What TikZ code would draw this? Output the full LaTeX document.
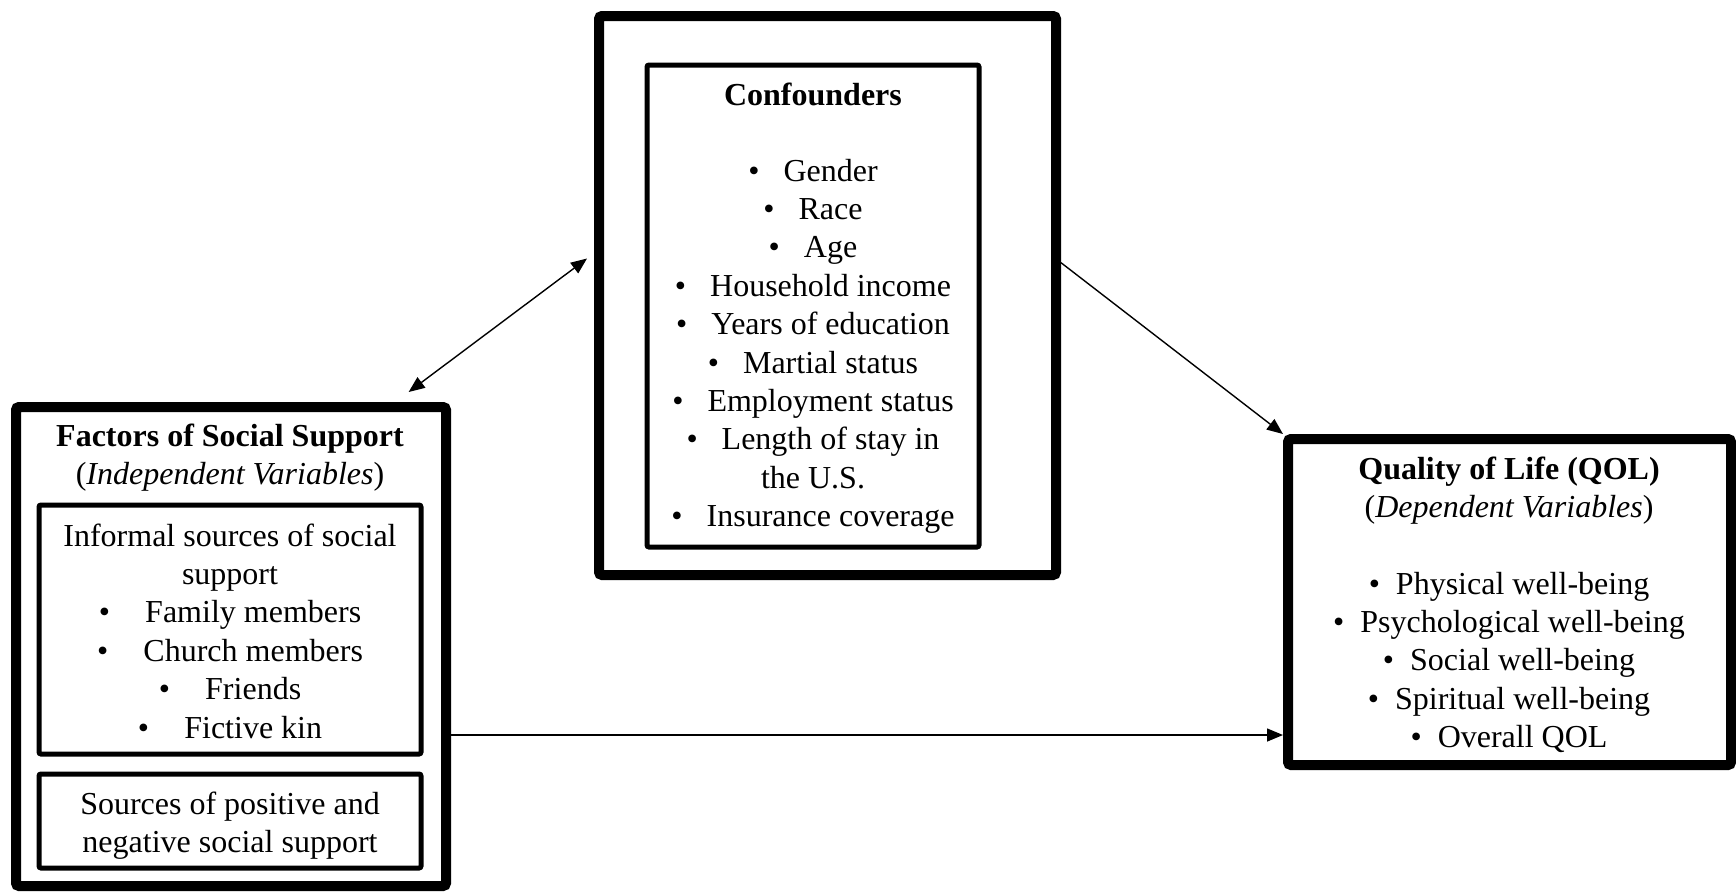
\documentclass[tikz,border=0pt]{standalone}
\usepackage{fontspec}
\setmainfont{Liberation Serif}
\usetikzlibrary{arrows.meta, calc}

\newcommand{\bul}[2][0.75em]{\textbullet\hspace{#1}#2}

\begin{document}
\begin{tikzpicture}[x=0.5pt, y=-0.5pt, >={Triangle[length=8pt,width=6.5pt]},
    font=\fontsize{16}{19.2}\selectfont,
    frame/.style={draw, line width=5pt, rounded corners=1.5pt, inner sep=0pt},
    subframe/.style={draw, line width=2.5pt, rounded corners=1pt, inner sep=0pt},
    txt/.style={anchor=base, inner sep=0pt},
    link/.style={line width=0.7pt}]

\def\ls{38.4}

\useasboundingbox (0,0) rectangle (1736,891);

% Boites
\node[frame, minimum width=215pt, minimum height=239.5pt] (fss) at (231,646.5) {};
\node[subframe, minimum width=191pt, minimum height=124.5pt] (inf) at (230,629.5) {};
\node[subframe, minimum width=191pt, minimum height=47pt] (pos) at (230,821) {};
\node[frame, minimum width=228.5pt, minimum height=279.5pt] (conf) at (827.5,295.5) {};
\node[subframe, minimum width=166pt, minimum height=241pt] (cin) at (813,306) {};
\node[frame, minimum width=221.5pt, minimum height=163pt] (qol) at (1509.5,602) {};

% Facteurs de soutien social
\node[txt, font=\fontsize{16}{19.2}\selectfont\bfseries] (fss-t) at (230,446) {Factors of Social Support};
\node[txt] (fss-s) at (230,{446+\ls}) {(\textit{Independent Variables})};
\foreach \txt [count=\k from 0] in {Informal sources of social, support,
    {\bul[1.1em]{Family members}}, {\bul[1.1em]{Church members}},
    {\bul[1.1em]{Friends}}, {\bul[1.1em]{Fictive kin}}}
    \node[txt] (inf\k) at (230,{546+\k*\ls}) {\txt};
\foreach \txt [count=\k from 0] in {Sources of positive and, negative social support}
    \node[txt] (pos\k) at (230,{814+\k*\ls}) {\txt};

% Confondants
\node[txt, font=\fontsize{16}{19.2}\selectfont\bfseries] (conf-t) at (813,105) {Confounders};
\foreach \txt [count=\k from 0] in {{\bul{Gender}}, {\bul{Race}}, {\bul{Age}},
    {\bul{Household income}}, {\bul{Years of education}}, {\bul{Martial status}},
    {\bul{Employment status}}, {\bul{Length of stay in}}, the U.S.,
    {\bul{Insurance coverage}}}
    \node[txt] (cf\k) at (813,{181+\k*\ls}) {\txt};

% Qualite de vie
\node[txt, font=\fontsize{16}{19.2}\selectfont\bfseries] (qol-t) at (1509,479) {Quality of Life (QOL)};
\node[txt] (qol-s) at (1509,{479+\ls}) {(\textit{Dependent Variables})};
\foreach \txt [count=\k from 0] in {Physical well-being, Psychological well-being,
    Social well-being, Spiritual well-being, Overall QOL}
    \node[txt] (q\k) at (1509,{594+\k*\ls}) {\bul[0.5em]{\txt}};

% Fleches
\coordinate (lvl) at (0,735);
\draw[link, <->] ([xshift=-3.5pt]conf.171.8) -- ([yshift=5pt]fss.54.9);
\draw[link, ->] (conf.8.6) -- (qol.north west);
\draw[link, ->] (fss.east |- lvl) -- (qol.west |- lvl);

\end{tikzpicture}
\end{document}
